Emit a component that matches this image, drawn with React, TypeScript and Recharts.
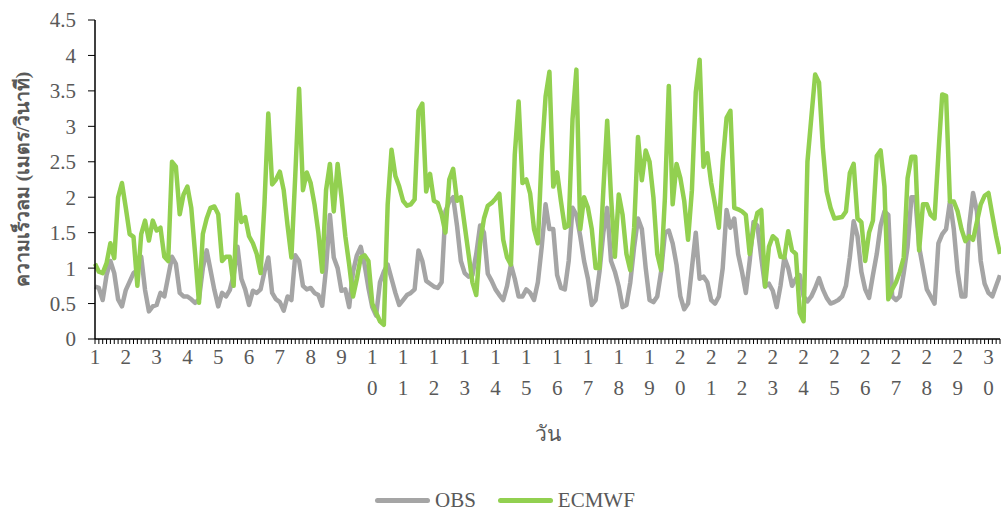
import React from 'react';
import { LineChart, Line, XAxis, YAxis, Label } from 'recharts';

// x axis: one label per day, 8 readings (3-hourly) per day
const DAY_LABELS = [
  '1', '2', '3', '4', '5', '6', '7', '8', '9', '10',
  '11', '12', '13', '14', '15', '16', '17', '18', '19', '20',
  '21', '22', '23', '24', '25', '26', '27', '28', '29', '30',
];
const STEPS_PER_DAY = 8;

const Y_TICKS = [0, 0.5, 1, 1.5, 2, 2.5, 3, 3.5, 4, 4.5];

// wind speed (m/s), observed
const OBS = [
  0.74, 0.72, 0.55, 0.9, 1.1, 0.93, 0.56, 0.46,
  0.69, 0.81, 0.93, 0.97, 1.16, 0.69, 0.39, 0.46,
  0.48, 0.65, 0.6, 0.88, 1.16, 1.06, 0.65, 0.6,
  0.6, 0.56, 0.51, 0.56, 1.0, 1.25, 0.97, 0.69,
  0.46, 0.65, 0.6, 0.69, 0.9, 1.3, 0.85, 0.7,
  0.48, 0.68, 0.65, 0.7, 0.95, 1.15, 0.65, 0.56,
  0.52, 0.4, 0.6, 0.55, 1.18, 1.1, 0.75, 0.7,
  0.72, 0.65, 0.62, 0.47, 1.0, 1.75, 1.15, 1.0,
  0.68, 0.7, 0.45, 0.95, 1.18, 1.3, 1.05, 0.72,
  0.45, 0.33, 0.8, 0.95, 1.05, 0.85, 0.65, 0.48,
  0.55, 0.62, 0.65, 0.7, 1.25, 1.1, 0.82, 0.78,
  0.74, 0.72, 0.8, 1.8, 1.94, 2.0, 1.6, 1.1,
  0.93, 0.88, 0.9, 1.2, 1.6, 1.5, 0.92, 0.82,
  0.7, 0.62, 0.55, 0.75, 1.05, 0.85, 0.6, 0.6,
  0.7, 0.65, 0.55, 0.8, 1.3, 1.9, 1.55, 1.55,
  0.9, 0.72, 0.7, 1.1, 1.85, 1.75, 1.45, 1.1,
  0.85, 0.48, 0.55, 0.95, 1.5, 1.85, 1.1, 0.95,
  0.74, 0.45, 0.48, 0.8, 1.3, 1.7, 1.55, 1.0,
  0.55, 0.52, 0.6, 0.95, 1.5, 1.53, 1.35, 1.05,
  0.6, 0.42, 0.5, 1.0, 1.5, 0.85, 0.88, 0.8,
  0.55, 0.5, 0.6, 1.0, 1.82, 1.57, 1.7, 1.2,
  0.95, 0.65, 1.1, 1.65, 1.6, 1.15, 0.74, 0.78,
  0.68, 0.45, 0.75, 1.15, 1.0, 0.75, 0.85, 0.9,
  0.6, 0.53, 0.6, 0.72, 0.86, 0.7, 0.58, 0.5,
  0.52, 0.55, 0.6, 0.75, 1.15, 1.66, 1.45, 0.95,
  0.7, 0.58, 0.9, 1.2, 1.6, 1.8, 1.75, 0.6,
  0.55, 0.6, 0.93, 1.3, 2.0, 2.0, 1.3, 1.0,
  0.7, 0.6, 0.5, 1.35, 1.48, 1.55, 1.94, 1.55,
  0.95, 0.6, 0.6, 1.6, 2.06, 1.8, 1.1, 0.78,
  0.65, 0.6, 0.75, 0.9,
];

// wind speed (m/s), ECMWF forecast
const ECMWF = [
  1.06, 0.95, 0.93, 1.07, 1.35, 1.14, 2.0, 2.2,
  1.85, 1.48, 1.44, 0.75, 1.48, 1.67, 1.39, 1.67,
  1.53, 1.57, 1.16, 1.1, 2.5, 2.43, 1.76, 2.04,
  2.15, 1.85, 1.2, 0.51, 1.48, 1.7, 1.85, 1.87,
  1.76, 1.1, 1.16, 1.16, 0.75, 2.04, 1.65, 1.72,
  1.45, 1.35, 1.2, 0.93, 1.9, 3.18, 2.18, 2.25,
  2.36, 2.1, 1.6, 1.15, 2.3, 3.53, 2.1, 2.35,
  2.2, 1.9, 1.5, 0.95, 2.1, 2.47, 1.8, 2.47,
  2.0, 1.45, 1.05, 0.6, 0.85, 1.15, 1.18, 1.1,
  0.5, 0.37, 0.25, 0.2, 1.9, 2.67, 2.3, 2.15,
  1.95, 1.88, 1.9, 1.97, 3.22, 3.32, 2.08, 2.33,
  1.95, 1.92, 1.76, 1.5, 2.25, 2.4, 1.95, 2.0,
  1.6, 1.2, 0.8, 0.62, 1.35, 1.7, 1.88, 1.92,
  1.98, 2.05, 1.4, 1.15, 1.05, 2.6, 3.35, 2.2,
  2.25, 2.05, 1.55, 1.35, 2.6, 3.42, 3.77, 2.15,
  2.35, 1.94, 1.57, 1.6, 3.1, 3.8, 1.55, 2.0,
  1.85, 1.55, 1.0, 1.0, 2.1, 3.08, 2.0, 1.16,
  2.04, 1.75, 1.2, 0.97, 1.57, 2.85, 2.24, 2.66,
  2.5, 2.0, 1.2, 0.97, 2.0, 3.57, 1.9, 2.47,
  2.27, 1.95, 1.4, 2.1, 3.48, 3.94, 2.43, 2.62,
  2.2, 1.9, 1.57, 2.5, 3.12, 3.22, 1.85, 1.83,
  1.8, 1.75, 1.2, 1.55, 1.78, 1.82, 0.74, 1.3,
  1.45, 1.4, 1.16, 1.15, 1.52, 1.25, 1.2, 0.37,
  0.25, 2.5, 3.12, 3.73, 3.62, 2.7, 2.08, 1.85,
  1.7, 1.71, 1.72, 1.8, 2.34, 2.47, 1.7, 1.65,
  1.1, 1.5, 1.67, 2.58, 2.66, 2.15, 0.56, 0.7,
  0.8, 0.95, 1.15, 2.27, 2.57, 2.57, 1.25, 1.9,
  1.9, 1.75, 1.7, 2.6, 3.45, 3.43, 1.94, 1.94,
  1.8, 1.55, 1.38, 1.45, 1.4, 1.65, 1.9, 2.02,
  2.06, 1.75, 1.45, 1.2,
];

const data = OBS.map((obs, i) => ({ step: i, obs, ecmwf: ECMWF[i] }));

const FONT = '"Liberation Serif", "Times New Roman", "DejaVu Serif", serif';
const TEXT = '#595959';
const OBS_COLOR = '#A5A5A5';
const ECMWF_COLOR = '#92D050';

// small tick under every reading, stacked day number under every day start
function DayTick(props: any) {
  const { x, y, payload } = props;
  const step = payload.value as number;
  const label = step % STEPS_PER_DAY === 0 ? DAY_LABELS[step / STEPS_PER_DAY] : null;
  return (
    <g>
      <line x1={x} y1={y} x2={x} y2={y + 5} stroke="#000" strokeWidth={1} />
      {label && (
        <text x={x} y={y + 25} textAnchor="middle" fill={TEXT} fontSize={21} fontFamily={FONT}>
          {label.split('').map((ch, k) => (
            <tspan key={k} x={x} dy={k === 0 ? 0 : 31}>
              {ch}
            </tspan>
          ))}
        </text>
      )}
    </g>
  );
}

// rotated y title, centred on the plot height
function YTitle(props: any) {
  const { viewBox } = props;
  const cx = 22;
  const cy = viewBox.y + viewBox.height / 2;
  return (
    <text
      x={cx}
      y={cy}
      transform={`rotate(-90 ${cx} ${cy})`}
      textAnchor="middle"
      dominantBaseline="central"
      fill={TEXT}
      fontSize={19.5}
      fontWeight="bold"
      fontFamily={FONT}
    >
      ความเร็วลม (เมตร/วินาที)
    </text>
  );
}

function LegendItem({ color, name }: { color: string; name: string }) {
  return (
    <div style={{ display: 'flex', alignItems: 'center', marginRight: 22 }}>
      <div style={{ width: 55, height: 5, borderRadius: 3, background: color, marginRight: 5 }} />
      <span style={{ fontFamily: FONT, fontSize: 21, color: TEXT }}>{name}</span>
    </div>
  );
}

export default function App() {
  return (
    <div style={{ position: 'absolute', left: 0, top: 0, width: 1001, height: 513, background: '#fff' }}>
      <LineChart width={1001} height={513} data={data} margin={{ top: 20, right: 1, left: 0, bottom: 0 }}>
        <XAxis
          dataKey="step"
          type="category"
          interval={0}
          height={174}
          tickSize={0}
          tickMargin={0}
          tickLine={false}
          axisLine={{ stroke: '#000', strokeWidth: 1.5 }}
          tick={<DayTick />}
          label={{
            value: 'วัน',
            position: 'insideBottom',
            offset: 72,
            fill: TEXT,
            fontSize: 21,
            fontFamily: FONT,
          }}
        />
        <YAxis
          domain={[0, 4.5]}
          ticks={Y_TICKS}
          width={95}
          tickSize={7}
          tickMargin={12}
          tickLine={{ stroke: '#000' }}
          axisLine={{ stroke: '#000', strokeWidth: 1.5 }}
          tick={{ fill: TEXT, fontSize: 21, fontFamily: FONT }}
        >
          <Label content={<YTitle />} />
        </YAxis>
        <Line
          type="linear"
          dataKey="obs"
          name="OBS"
          stroke={OBS_COLOR}
          strokeWidth={4.5}
          strokeLinejoin="round"
          dot={false}
          isAnimationActive={false}
        />
        <Line
          type="linear"
          dataKey="ecmwf"
          name="ECMWF"
          stroke={ECMWF_COLOR}
          strokeWidth={4.5}
          strokeLinejoin="round"
          dot={false}
          isAnimationActive={false}
        />
      </LineChart>
      <div style={{ position: 'absolute', left: 375, top: 488, display: 'flex' }}>
        <LegendItem color={OBS_COLOR} name="OBS" />
        <LegendItem color={ECMWF_COLOR} name="ECMWF" />
      </div>
    </div>
  );
}
